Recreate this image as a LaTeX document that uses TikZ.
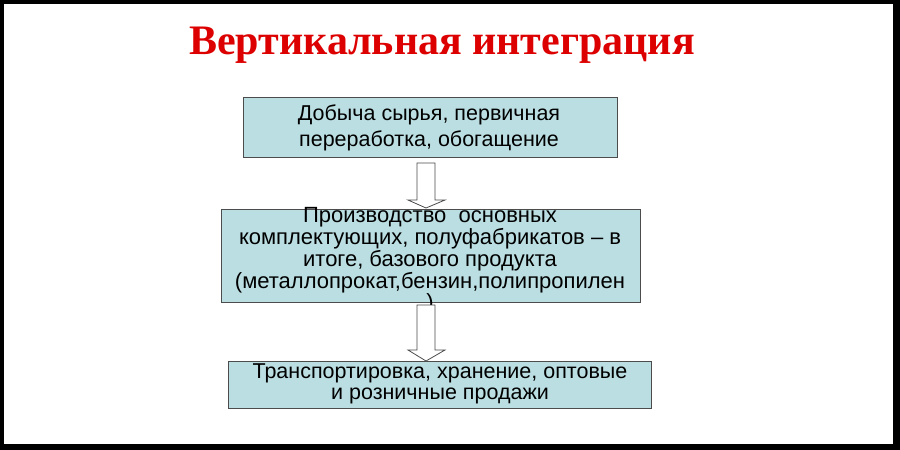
\documentclass[tikz,border=0pt]{standalone}
\usepackage{fontspec}
\setmainfont{Liberation Sans}
\newfontfamily\titlefont{Liberation Serif}
\usetikzlibrary{calc}
\definecolor{boxfill}{HTML}{BBDEE2}
\definecolor{titlered}{HTML}{DD0000}
\tikzset{
  box/.style={draw=black!70, fill=boxfill, line width=0.8pt},
  txt/.style={font=\fontsize{22}{20}\selectfont, align=center, inner sep=0},
  blockarrow/.style={draw=black!70, fill=white, line width=0.8pt}
}
\begin{document}
\begin{tikzpicture}[x=1pt,y=-1pt]
\fill[black] (0,0) rectangle (900,450);
\fill[white] (4,4) rectangle (893,444);
\node[font=\titlefont\bfseries\fontsize{42}{44}\selectfont, text=titlered] (title) at (442,45) {Вертикальная интеграция};
\draw[box] (243,97) rectangle (617,157);
\node[txt, font=\fontsize{21.5}{26}\selectfont] (t1) at (429,128) {Добыча сырья, первичная\\переработка, обогащение};
\draw[box] (221,209) rectangle (640,302);
\node[txt] (t2) at (430,261) {Производство\ \ основных\\комплектующих, полуфабрикатов -- в\\итоге, базового продукта\\(металлопрокат,бензин,полипропилен\\)};
\draw[box] (228,361) rectangle (651,408);
\node[txt, font=\fontsize{21.5}{20.5}\selectfont] (t3) at (440,384) {Транспортировка, хранение, оптовые\\и розничные продажи};
% arrows
\draw[blockarrow] (417,163) -- (435,163) -- (435,200) -- (445,200) -- (426,208) -- (408,200) -- (417,200) -- cycle;
\draw[blockarrow] (417,305) -- (435,305) -- (435,350) -- (445,350) -- (426,361) -- (408,350) -- (417,350) -- cycle;
\end{tikzpicture}
\end{document}
